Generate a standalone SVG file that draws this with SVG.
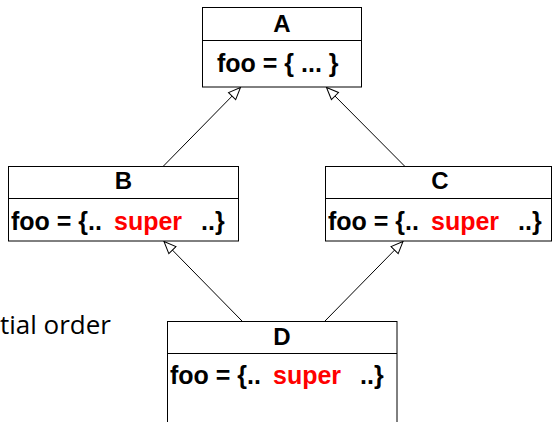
<svg xmlns="http://www.w3.org/2000/svg" width="552" height="422" viewBox="0 0 552 422">
  <style>
    .box { fill: #ffffff; stroke: #000000; stroke-width: 1; }
    .sep { stroke: #000000; stroke-width: 1; }
    .lbl { font-family: "Liberation Sans", Arial, sans-serif; font-weight: bold; font-size: 25px; fill: #000000; }
    .hdr { text-anchor: middle; font-size: 24px; }
    .kw { fill: #ff0000; }
    .edge { stroke: #000000; stroke-width: 1; fill: none; marker-end: url(#hollow); }
    .note { font-family: "Open Sans", "Noto Sans", sans-serif; font-size: 26px; fill: #000000; }
  </style>
  <defs>
    <marker id="hollow" viewBox="-13 -7 15 14" refX="0" refY="0" markerUnits="userSpaceOnUse" markerWidth="15" markerHeight="14" orient="auto">
      <path d="M0,0 L-12,-5 L-12,5 Z" fill="#ffffff" stroke="#000000" stroke-width="1"/>
    </marker>
  </defs>

  <text class="note" x="0" y="334">tial order</text>

  <g id="connectors">
    <line class="edge" x1="163.5" y1="166" x2="240.5" y2="87.5"/>
    <line class="edge" x1="404.5" y1="166" x2="326.5" y2="87.5"/>
    <line class="edge" x1="242" y1="321" x2="164" y2="241.5"/>
    <line class="edge" x1="325" y1="321" x2="403" y2="241.5"/>
  </g>

  <g id="node-A">
    <rect class="box" x="202.5" y="7.5" width="159" height="79.5"/>
    <line class="sep" x1="202.5" y1="40.5" x2="361.5" y2="40.5"/>
    <text class="lbl hdr" x="282" y="32">A</text>
    <text class="lbl" x="217" y="72">foo = { ... }</text>
  </g>

  <g id="node-B">
    <rect class="box" x="8.5" y="166.5" width="230" height="74.5"/>
    <line class="sep" x1="8.5" y1="198.5" x2="238.5" y2="198.5"/>
    <text class="lbl hdr" x="123.5" y="189">B</text>
    <text class="lbl" x="11" y="230">foo = {..</text>
    <text class="lbl kw" x="114" y="230">super</text>
    <text class="lbl" x="201" y="230">..}</text>
  </g>

  <g id="node-C">
    <rect class="box" x="325.5" y="166.5" width="226" height="74.5"/>
    <line class="sep" x1="325.5" y1="198.5" x2="551.5" y2="198.5"/>
    <text class="lbl hdr" x="440" y="189">C</text>
    <text class="lbl" x="328" y="230">foo = {..</text>
    <text class="lbl kw" x="431" y="230">super</text>
    <text class="lbl" x="518" y="230">..}</text>
  </g>

  <g id="node-D">
    <rect class="box" x="167.5" y="321.5" width="229.5" height="110"/>
    <line class="sep" x1="167.5" y1="353.5" x2="397" y2="353.5"/>
    <text class="lbl hdr" x="282" y="345">D</text>
    <text class="lbl" x="170" y="384">foo = {..</text>
    <text class="lbl kw" x="273" y="384">super</text>
    <text class="lbl" x="360" y="384">..}</text>
  </g>
</svg>
